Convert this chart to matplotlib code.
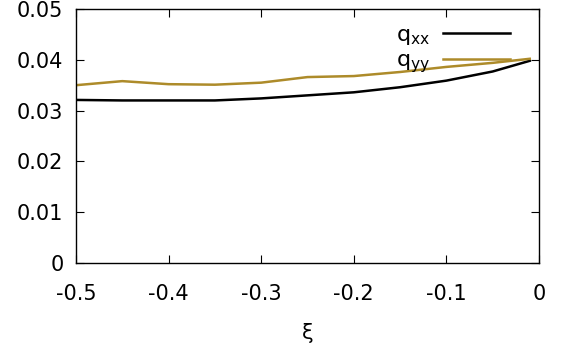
import matplotlib
matplotlib.use("Agg")
import matplotlib.pyplot as plt

xi = [-0.5, -0.45, -0.4, -0.35, -0.3, -0.25, -0.2, -0.15, -0.1, -0.05, -0.01]
q_xx = [0.0321, 0.0320, 0.0320, 0.0320, 0.0324, 0.0330, 0.0336, 0.0346, 0.0359, 0.0377, 0.0398]
q_yy = [0.0350, 0.0358, 0.0352, 0.0351, 0.0355, 0.0366, 0.0368, 0.0376, 0.0386, 0.0394, 0.0402]
xticks = [-0.5, -0.4, -0.3, -0.2, -0.1, 0]
xticklabels = ["-0.5", "-0.4", "-0.3", "-0.2", "-0.1", "0"]
yticks = [0, 0.01, 0.02, 0.03, 0.04, 0.05]
yticklabels = ["0", "0.01", "0.02", "0.03", "0.04", "0.05"]

plt.rcParams['font.family'] = ['DejaVu Sans']
fs = 15
gold = '#ad8b2a'

fig = plt.figure(figsize=(5.66, 3.47), dpi=100)
ax = fig.add_axes([76/566, 1-263/347, (539-76)/566, (263-9)/347])

ax.plot(xi, q_xx, color='black', lw=1.8, label=r'q$_{\mathregular{xx}}$')
ax.plot(xi, q_yy, color=gold, lw=1.8, label=r'q$_{\mathregular{yy}}$')

ax.set_xlim(-0.5, 0)
ax.set_ylim(0, 0.05)
ax.set_xticks(xticks)
ax.set_xticklabels(xticklabels, fontsize=fs)
ax.set_yticks(yticks)
ax.set_yticklabels(yticklabels, fontsize=fs)
ax.tick_params(direction='in', length=6, width=0.8, top=True, right=True)
ax.tick_params(axis='x', pad=15)
ax.tick_params(axis='y', pad=9)
ax.set_xlabel('ξ', fontsize=fs, labelpad=14)
for s in ax.spines.values():
    s.set_linewidth(1.0)

leg = ax.legend(loc='upper right', frameon=False, markerfirst=False, fontsize=16,
                handlelength=3.0, handletextpad=0.6, labelspacing=0.15,
                borderpad=0, borderaxespad=0,
                bbox_to_anchor=((510-76)/463, (263-25)/254))

fig.savefig('out.png', dpi=100)
